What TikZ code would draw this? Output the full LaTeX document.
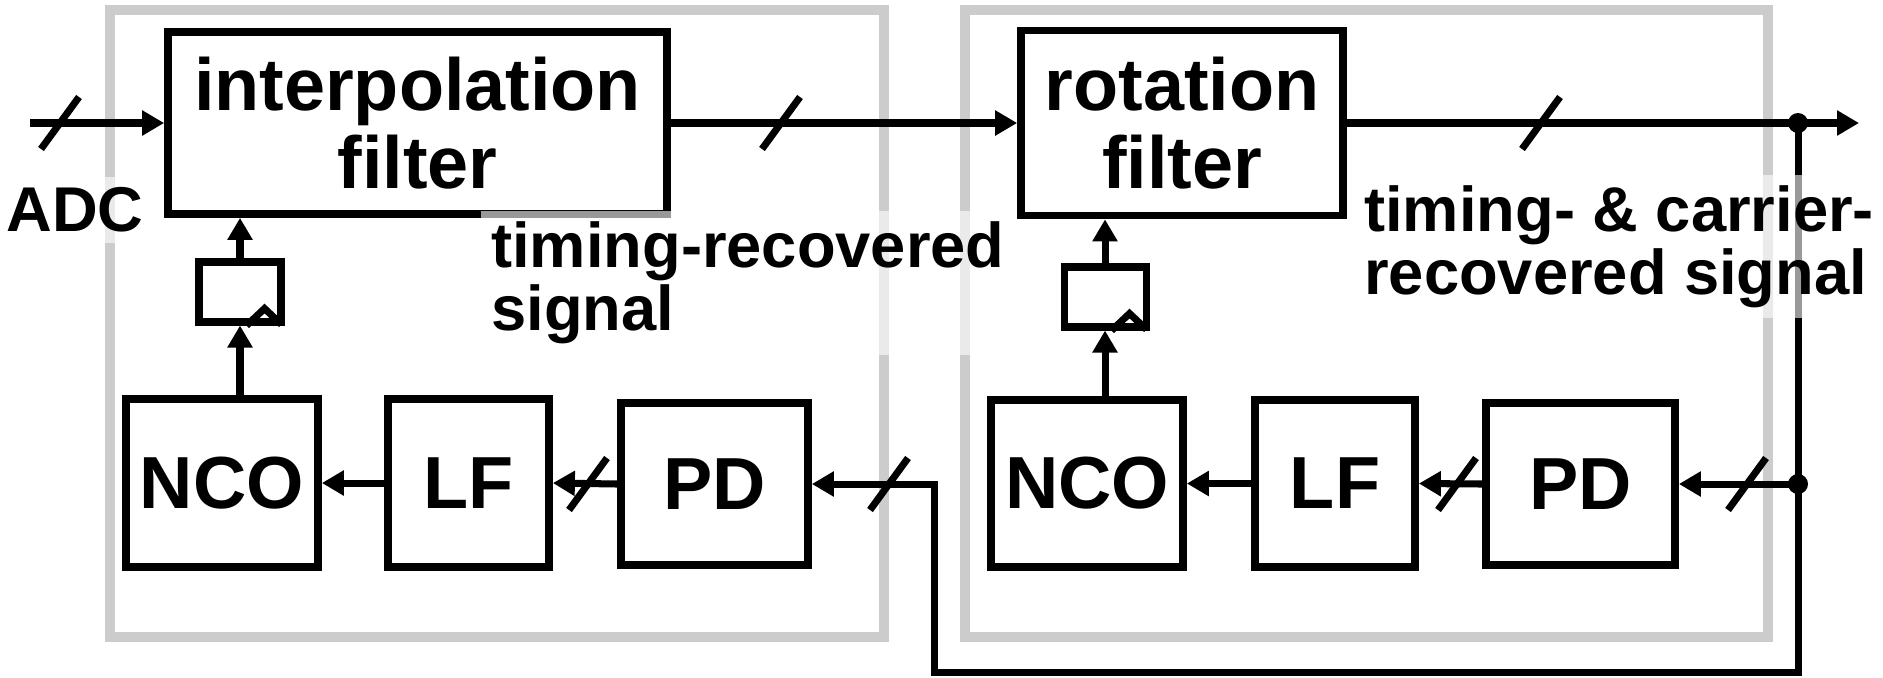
\documentclass[tikz,border=0pt]{standalone}
\usepackage{fontspec}
\setmainfont{Liberation Sans}
\usepackage{tikz}
\usetikzlibrary{arrows.meta,positioning,calc}

\begin{document}
\begin{tikzpicture}[
  blk/.style={draw,line width=2.2pt,align=center,inner sep=0pt,
              font=\fontsize{21}{22}\selectfont\bfseries},
  reg/.style={draw,line width=2pt,minimum width=0.82cm,minimum height=0.6cm,inner sep=0pt},
  frame/.style={draw=gray!40,line width=3.1pt},
  sig/.style={line width=2pt,-{Triangle[length=0.22cm,width=0.24cm]}},
  busmark/.style={line width=2pt},
  lbl/.style={fill=white,fill opacity=0.6,text opacity=1,align=left,inner sep=3pt,
              font=\fontsize{18}{18}\selectfont\bfseries}]
\useasboundingbox (0,0) rectangle (18.83,6.77);

% the two loops
\draw[frame] (1.10,0.40) rectangle (8.84,6.67);
\draw[frame] (9.65,0.40) rectangle (17.68,6.67);

\node[blk,minimum width=4.99cm,minimum height=1.82cm] (interp) at (4.175,5.54) {interpolation\\filter};
\node[blk,minimum width=3.22cm,minimum height=1.85cm] (rot) at (11.82,5.54) {rotation\\filter};

\node[reg] (regL) at (2.40,3.85) {};
\node[reg] (regR) at (11.05,3.80) {};

\node[blk,minimum width=1.92cm,minimum height=1.68cm] (ncoL) at (2.22,1.94) {NCO};
\node[blk,minimum width=1.61cm,minimum height=1.68cm] (lfL) at (4.685,1.94) {LF};
\node[blk,minimum width=1.87cm,minimum height=1.62cm] (pdL) at (7.145,1.93) {PD};
\node[blk,minimum width=1.92cm,minimum height=1.67cm] (ncoR) at (10.87,1.935) {NCO};
\node[blk,minimum width=1.60cm,minimum height=1.67cm] (lfR) at (13.35,1.935) {LF};
\node[blk,minimum width=1.89cm,minimum height=1.62cm] (pdR) at (15.805,1.93) {PD};

% clock marks of the registers
\foreach \r in {regL,regR}
  \draw[line width=2pt] ($(\r.south east)+(-0.38,0)$) -- ++(0.18,0.17) -- ++(0.17,-0.16);

\coordinate (adcin) at (0.30,5.54);
\coordinate (out) at (18.59,5.54);
\coordinate (tapO) at (17.98,5.54);
\coordinate (tapP) at (17.98,1.93);
\coordinate (bend) at (9.34,0.05);

\draw[sig] (adcin) -- (interp.west);
\draw[sig] (interp.east) -- (rot.west);
\draw[sig] (rot.east) -- (out);
\draw[sig] (tapO) -- (tapO |- bend) -- (bend) |- (pdL.east);
\draw[sig] (tapP) -- (pdR.east);
\fill (tapO) circle (0.1);
\fill (tapP) circle (0.1);

\draw[sig] (pdL.west) -- (lfL.east);
\draw[sig] (lfL.west) -- (ncoL.east);
\draw[sig] (pdR.west) -- (lfR.east);
\draw[sig] (lfR.west) -- (ncoR.east);

\draw[sig] (regL.south |- ncoL.north) -- (regL.south);
\draw[sig] (regL.north) -- (regL.north |- interp.south);
\draw[sig] (regR.south |- ncoR.north) -- (regR.south);
\draw[sig] (regR.north) -- (regR.north |- rot.south);

% bus width marks
\foreach \x/\y in {0.60/5.54,7.81/5.54,15.41/5.54,8.89/1.93,17.47/1.93,5.88/1.93,14.57/1.93}
  \draw[busmark] (\x-0.19,\y-0.26) -- ++(0.38,0.52);

\node[lbl] (adc) at (0.75,4.67) {ADC};
\node[lbl,anchor=west] (trs) at (4.80,3.94) {timing-recovered\\signal};
\node[lbl,anchor=west] (tcrs) at (13.53,4.305) {timing- \& carrier-\\recovered signal};
\end{tikzpicture}
\end{document}
